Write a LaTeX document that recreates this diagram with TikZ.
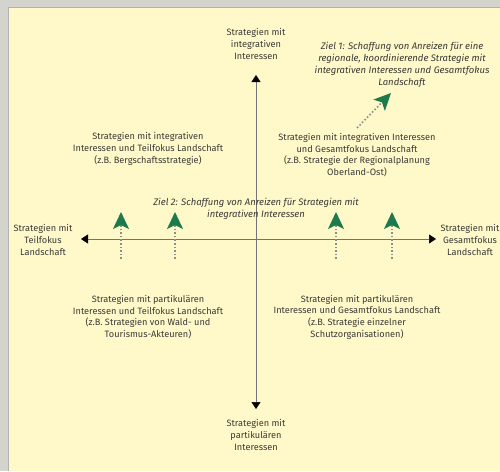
\documentclass[tikz,border=0pt]{standalone}
\usepackage{fontspec}
\setmainfont{Fira Sans}
\usetikzlibrary{arrows.meta}

\definecolor{paper}{HTML}{FFF9C9}
\definecolor{frame}{HTML}{D4D4CE}
\definecolor{txt}{HTML}{3A3A36}
\definecolor{goalgreen}{HTML}{1D7A4C}

\tikzset{
    lbl/.style={align=center, text=txt, inner sep=0pt, font=\fontsize{9.2}{11.7}\selectfont},
    goal/.style={lbl, font=\fontsize{9.5}{11.9}\selectfont\itshape},
    axis/.style={draw=black!55, line width=0.5pt, {Triangle[length=7pt,width=9pt,color=black]}-{Triangle[length=7pt,width=9pt,color=black]}},
    push/.style={draw=black!45, line width=1.6pt, dotted, -{Stealth[length=17pt,width=16pt,inset=4pt,color=goalgreen]}}
}

\begin{document}
\begin{tikzpicture}[x=1pt, y=-1pt]
    \useasboundingbox (0,0) rectangle (500,471);
    \fill[frame] (0,0) rectangle (500,471);
    \fill[paper] (8,7) rectangle (500,471);
    \draw[black!30, line width=0.6pt] (8,471) -- (8,7) -- (500,7);

    % axes
    \coordinate (top) at (256,75);
    \coordinate (bottom) at (256,409);
    \coordinate (left) at (81,239);
    \coordinate (right) at (436,239);
    \draw[axis] (bottom) -- (top);
    \draw[axis] (left) -- (right);

    % axis labels
    \node[lbl] (integ) at (256,44) {Strategien mit\\integrativen\\Interessen};
    \node[lbl] (partik) at (256,435) {Strategien mit\\partikulären\\Interessen};
    \node[lbl] (teil) at (43,240) {Strategien mit\\Teilfokus\\Landschaft};
    \node[lbl] (gesamt) at (470,240) {Strategien mit\\Gesamtfokus\\Landschaft};

    % quadrants
    \node[lbl] (ql1) at (148,149) {Strategien mit integrativen\\Interessen und Teilfokus Landschaft\\(z.B. Bergschaftsstrategie)};
    \node[lbl] (qr1) at (357,155) {Strategien mit integrativen Interessen\\und Gesamtfokus Landschaft\\(z.B. Strategie der Regionalplanung\\Oberland-Ost)};
    \node[lbl] (ql2) at (148,317) {Strategien mit partikulären\\Interessen und Teilfokus Landschaft\\(z.B. Strategien von Wald- und\\Tourismus-Akteuren)};
    \node[lbl] (qr2) at (357,317) {Strategien mit partikulären\\Interessen und Gesamtfokus Landschaft\\(z.B. Strategie einzelner\\Schutzorganisationen)};

    % goals
    \node[goal] (ziel1) at (402,65) {Ziel 1: Schaffung von Anreizen für eine\\regionale, koordinierende Strategie mit\\integrativen Interessen und Gesamtfokus\\Landschaft};
    \node[goal] (ziel2) at (256,209) {Ziel 2: Schaffung von Anreizen für Strategien mit\\integrativen Interessen};

    \coordinate (z1from) at (357,128);
    \coordinate (z1to) at (391,93);
    \draw[push] (z1from) -- (z1to);

    \coordinate (p1from) at (121,259);
    \coordinate (p1to) at (121,212);
    \coordinate (p2from) at (175,259);
    \coordinate (p2to) at (175,212);
    \coordinate (p3from) at (336,259);
    \coordinate (p3to) at (336,212);
    \coordinate (p4from) at (392,259);
    \coordinate (p4to) at (392,212);
    \draw[push] (p1from) -- (p1to);
    \draw[push] (p2from) -- (p2to);
    \draw[push] (p3from) -- (p3to);
    \draw[push] (p4from) -- (p4to);
\end{tikzpicture}
\end{document}
